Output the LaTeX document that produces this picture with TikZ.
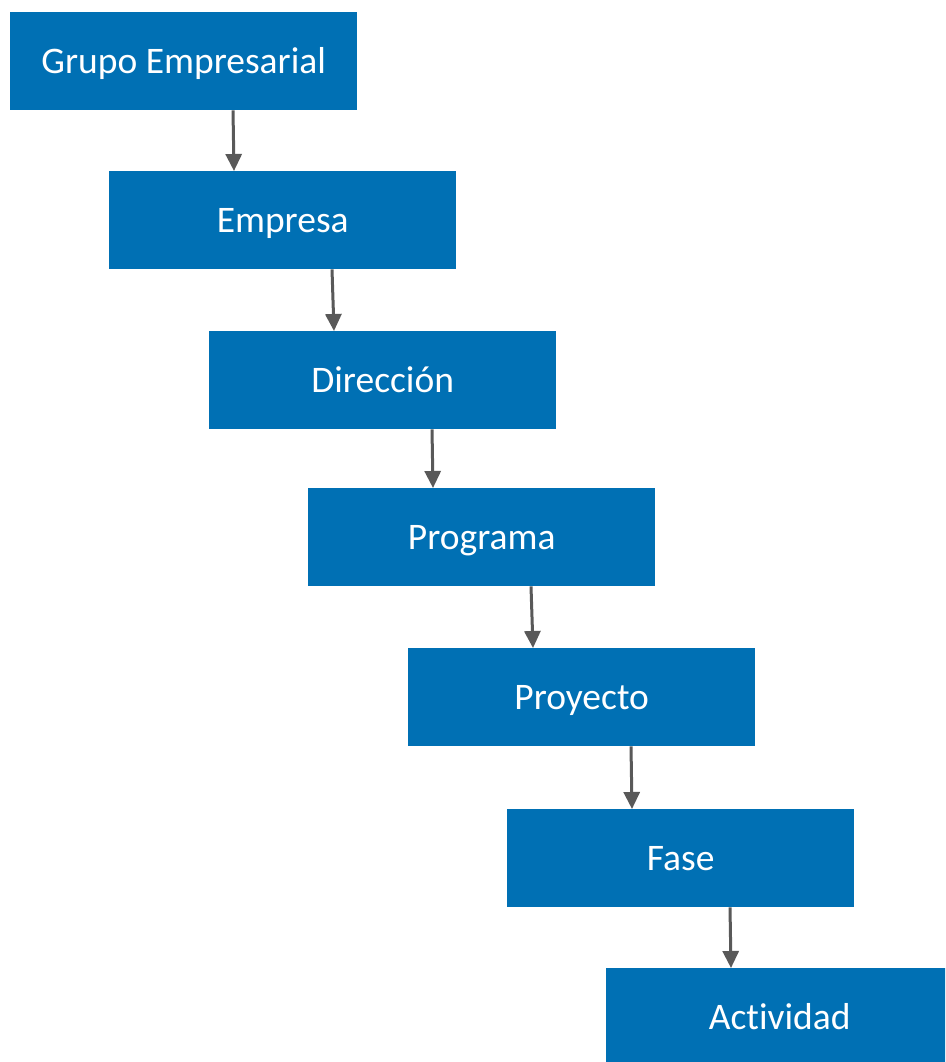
\documentclass[tikz,border=0pt]{standalone}
\usepackage{fontspec}
\setmainfont[Ligatures=NoCommon]{Carlito}
\usetikzlibrary{arrows.meta,calc}
\definecolor{boxblue}{RGB}{0,112,180}
\definecolor{linkgrey}{RGB}{89,89,89}
\begin{document}
\begin{tikzpicture}[x=1pt,y=-1pt,
  levelbox/.style={fill=boxblue,draw=none,anchor=north west,
    minimum width=347pt,minimum height=98pt,inner sep=0pt,
    text height=25pt,text depth=0pt,
    text=white,font=\fontsize{37.5}{44}\selectfont},
  link/.style={draw=linkgrey,line width=3pt,
    -{Triangle[length=17pt,width=16pt]}}]
\clip (0,0) rectangle (945,1062);
\fill[white] (0,0) rectangle (945,1062);
\node[levelbox] (b1) at (10,12)  {Grupo Empresarial};
\node[levelbox] (b2) at (109,171) {Empresa};
\node[levelbox] (b3) at (209,331) {Dirección};
\node[levelbox] (b4) at (308,488) {Programa};
\node[levelbox] (b5) at (408,648) {Proyecto};
\node[levelbox] (b6) at (507,809) {Fase};
\node[levelbox] (b7) at (606,968) {Actividad};
\foreach \a/\b in {b1/b2,b2/b3,b3/b4,b4/b5,b5/b6,b6/b7}
  \draw[link] ($(\a.south west)+(223,0)$) -- ($(\b.north west)+(125,0)$);
\end{tikzpicture}
\end{document}
